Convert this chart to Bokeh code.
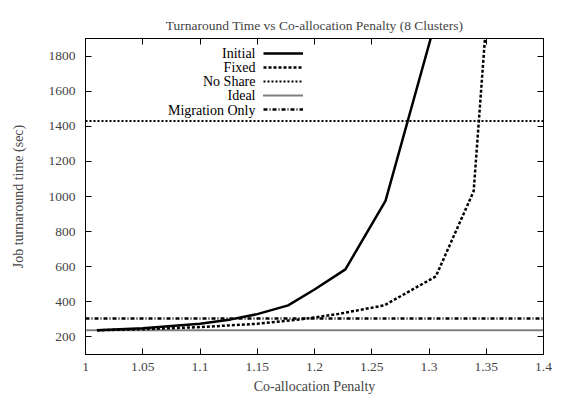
from bokeh.plotting import figure
from bokeh.models import (Range1d, FixedTicker, LinearAxis, Legend, LegendItem, Label)
from bokeh.embed import file_html
from bokeh.resources import INLINE

# ---- data ----
x_initial = [1.01, 1.05, 1.10, 1.127, 1.15, 1.177, 1.20, 1.227, 1.262, 1.31]
y_initial = [238, 250, 275, 300, 330, 380, 470, 585, 975, 2100]

x_fixed = [1.01, 1.05, 1.10, 1.15, 1.188, 1.22, 1.261, 1.306, 1.339, 1.35]
y_fixed = [238, 244, 256, 275, 300, 330, 380, 545, 1030, 2000]

x_flat = [1.0, 1.4]
y_noshare = [1430, 1430]
y_ideal = [238, 238]
y_migration = [305, 305]

series_names = ["Initial", "Fixed", "No Share", "Ideal", "Migration Only"]
title_text = "Turnaround Time vs Co-allocation Penalty (8 Clusters)"

x_ticks = [1.0, 1.05, 1.1, 1.15, 1.2, 1.25, 1.3, 1.35, 1.4]
x_tick_labels = ["1", "1.05", "1.1", "1.15", "1.2", "1.25", "1.3", "1.35", "1.4"]
y_ticks = [200, 400, 600, 800, 1000, 1200, 1400, 1600, 1800]

FONT = "Liberation Serif"

p = figure(width=577, height=401, output_backend="svg", toolbar_location=None,
           x_range=Range1d(1.0, 1.4), y_range=Range1d(100, 1900),
           min_border_left=85, min_border_right=34, min_border_top=38,
           min_border_bottom=47)
p.title.text = title_text
p.title.text_font = FONT
p.title.text_font_size = "13.5px"
p.title.text_font_style = "normal"
p.title.align = "center"
p.title.vertical_align = "middle"
p.grid.visible = False
p.outline_line_color = "black"
p.outline_line_width = 1
p.background_fill_color = "white"
p.border_fill_color = "white"

for ax in (p.xaxis[0], p.yaxis[0]):
    ax.axis_line_color = "black"
    ax.major_tick_in = 6
    ax.major_tick_out = 0
    ax.minor_tick_in = 0
    ax.minor_tick_out = 0
    ax.major_label_text_font = FONT
    ax.major_label_text_font_size = "13.5px"
    ax.axis_label_text_font = FONT
    ax.axis_label_text_font_size = "14px"
    ax.axis_label_text_font_style = "normal"

p.xaxis[0].ticker = FixedTicker(ticks=x_ticks)
p.xaxis[0].major_label_overrides = {t: l for t, l in zip(x_ticks, x_tick_labels)}
p.xaxis[0].axis_label = "Co-allocation Penalty"
p.xaxis[0].major_label_standoff = 8
p.xaxis[0].axis_label_standoff = 5
p.yaxis[0].ticker = FixedTicker(ticks=y_ticks)
p.yaxis[0].axis_label = "Job turnaround time (sec)"
p.yaxis[0].major_label_standoff = 10
p.yaxis[0].axis_label_standoff = 20

# mirror ticks on top and right
top = LinearAxis(ticker=FixedTicker(ticks=x_ticks), major_tick_in=6, major_tick_out=0,
                 minor_tick_in=0, minor_tick_out=0, major_label_text_alpha=0,
                 major_label_text_font_size="1px", axis_line_color="black")
right = LinearAxis(ticker=FixedTicker(ticks=y_ticks), major_tick_in=6, major_tick_out=0,
                   minor_tick_in=0, minor_tick_out=0, major_label_text_alpha=0,
                   major_label_text_font_size="1px", axis_line_color="black")
p.add_layout(top, "above")
p.add_layout(right, "right")

r_init = p.line(x_initial, y_initial, line_color="black", line_width=2.5)
r_fixed = p.line(x_fixed, y_fixed, line_color="black", line_width=2.5, line_dash="3 2")
r_noshare = p.line(x_flat, y_noshare, line_color="black", line_width=2, line_dash="2 2")
r_ideal = p.line(x_flat, y_ideal, line_color="black", line_width=2, line_dash="1 1")
r_mig = p.line(x_flat, y_migration, line_color="black", line_width=2.5, line_dash="4 2 1 2")

renderers = [r_init, r_fixed, r_noshare, r_ideal, r_mig]
legend = Legend(items=[LegendItem(label=n, renderers=[r]) for n, r in zip(series_names, renderers)],
                location=(178, 238), glyph_width=40, glyph_height=14, label_height=14,
                label_width=1, label_standoff=0, spacing=0, padding=0, margin=0,
                label_text_alpha=0, label_text_font_size="1px",
                border_line_alpha=0, background_fill_alpha=0)
p.add_layout(legend, "center")

row_h = 14.2
for i, n in enumerate(series_names):
    p.add_layout(Label(x=170, y=316 - 14.7 - i * row_h, x_units="screen", y_units="screen",
                       text=n, text_align="right", text_baseline="middle",
                       text_font=FONT, text_font_size="14px", text_color="black"))

open("out.html", "w").write(file_html(p, INLINE))
